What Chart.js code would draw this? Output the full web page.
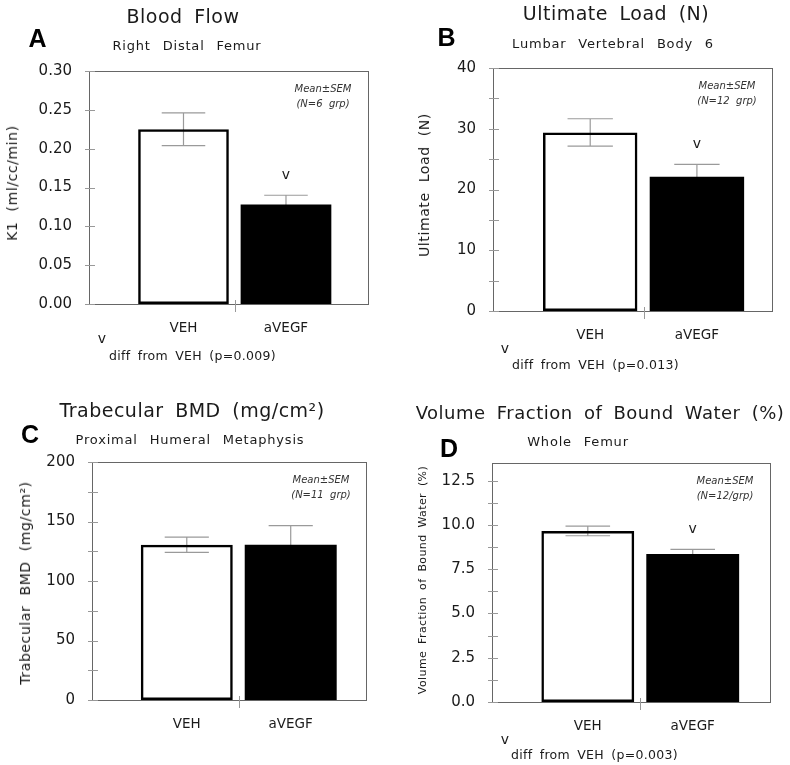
<!DOCTYPE html>
<html lang="en">
<head>
    <meta charset="UTF-8">
    <title>aVEGF vs VEH - bone panels</title>
    <script src="https://cdn.jsdelivr.net/npm/chart.js"></script>
    <style>
        body {
            margin: 0;
            background: #fff;
        }

        .page {
            position: relative;
            width: 790px;
            height: 765px;
            overflow: hidden;
        }

        .panel {
            position: absolute;
        }

        .t {
            position: absolute;
            transform: translate(-50%, -50%);
            white-space: pre;
            font-family: "DejaVu Sans", sans-serif;
            color: #1a1a1a;
            line-height: 1;
        }

        .title { font-size: 19px; letter-spacing: 0.5px; word-spacing: 5px; }
        .sub { font-size: 13px; letter-spacing: 0.8px; word-spacing: 7px; }
        .letter { font-family: "Liberation Sans", Arial, sans-serif; font-weight: bold; font-size: 25px; color: #000; }
        .ytitle { transform: translate(-50%, -50%) rotate(-90deg); letter-spacing: 0.6px; word-spacing: 5px; }
        .mark { font-size: 14px; }
        .note { transform: translate(0, -50%); font-size: 12.5px; letter-spacing: 0.3px; word-spacing: 3px; }
    </style>
</head>
<body>
<div class="page">
    <!-- A -->
    <div class="panel" style="left:0;top:0"><canvas id="chartA" width="395" height="380"></canvas></div>
    <div class="t letter" style="left:37.5px;top:38px">A</div>
    <div class="t title" style="left:183px;top:16px">Blood Flow</div>
    <div class="t sub" style="left:187px;top:45px">Right Distal Femur</div>
    <div class="t ytitle" style="left:12px;top:183px;font-size:14px">K1 (ml/cc/min)</div>
    <div class="t mark" style="left:102px;top:338px">v</div>
    <div class="t note" style="left:109px;top:356px">diff from VEH (p=0.009)</div>

    <!-- B -->
    <div class="panel" style="left:395px;top:0"><canvas id="chartB" width="395" height="380"></canvas></div>
    <div class="t letter" style="left:446.5px;top:36.5px">B</div>
    <div class="t title" style="left:616px;top:13px">Ultimate Load (N)</div>
    <div class="t sub" style="left:613px;top:43px">Lumbar Vertebral Body 6</div>
    <div class="t ytitle" style="left:424px;top:185px;font-size:14px">Ultimate Load (N)</div>
    <div class="t mark" style="left:505px;top:348px">v</div>
    <div class="t note" style="left:512px;top:365px">diff from VEH (p=0.013)</div>

    <!-- C -->
    <div class="panel" style="left:0;top:380px"><canvas id="chartC" width="395" height="385"></canvas></div>
    <div class="t letter" style="left:30px;top:433.5px">C</div>
    <div class="t title" style="left:192px;top:410px">Trabecular BMD (mg/cm²)</div>
    <div class="t sub" style="left:190px;top:439px">Proximal Humeral Metaphysis</div>
    <div class="t ytitle" style="left:25px;top:582.5px;font-size:14px">Trabecular BMD (mg/cm²)</div>

    <!-- D -->
    <div class="panel" style="left:395px;top:380px"><canvas id="chartD" width="395" height="385"></canvas></div>
    <div class="t letter" style="left:449px;top:448px">D</div>
    <div class="t title" style="left:600px;top:413px;font-size:18px">Volume Fraction of Bound Water (%)</div>
    <div class="t sub" style="left:578px;top:441px">Whole Femur</div>
    <div class="t ytitle" style="left:422px;top:580px;font-size:11px;letter-spacing:0.4px;word-spacing:3px">Volume Fraction of Bound Water (%)</div>
    <div class="t mark" style="left:505px;top:739px">v</div>
    <div class="t note" style="left:511px;top:755px">diff from VEH (p=0.003)</div>
</div>

<script>
    // groups
    const groups = ['VEH', 'aVEGF'];

    // A: blood flow, K1 (ml/cc/min)
    const flowMean = [0.225, 0.128];
    const flowSem = [0.021, 0.012];
    const flowMark = ['', 'v'];

    // B: ultimate load (N)
    const loadMean = [29.4, 22.1];
    const loadSem = [2.25, 2.05];
    const loadMark = ['', 'v'];

    // C: trabecular BMD (mg/cm2)
    const bmdMean = [130.4, 130.4];
    const bmdSem = [6.4, 16.2];
    const bmdMark = ['', ''];

    // D: bound water (%)
    const waterMean = [9.66, 8.36];
    const waterSem = [0.27, 0.26];
    const waterMark = ['', 'v'];

    // draws SEM whiskers, frame, tick marks and labels inside the plot
    const panelDecor = {
        id: 'panelDecor',
        beforeDatasetsDraw(chart, args, opts) {
            const ctx = chart.ctx;
            const y = chart.scales.y;
            const bars = chart.getDatasetMeta(0).data;
            ctx.save();
            ctx.strokeStyle = '#9a9a9a';
            ctx.lineWidth = 1.2;
            bars.forEach((bar, i) => {
                const top = y.getPixelForValue(opts.mean[i] + opts.sem[i]);
                const bot = y.getPixelForValue(opts.mean[i] - opts.sem[i]);
                const half = bar.width * 0.24;
                ctx.beginPath();
                ctx.moveTo(bar.x, top); ctx.lineTo(bar.x, bot);
                ctx.moveTo(bar.x - half, top); ctx.lineTo(bar.x + half, top);
                ctx.moveTo(bar.x - half, bot); ctx.lineTo(bar.x + half, bot);
                ctx.stroke();
            });
            ctx.restore();
        },
        afterDatasetsDraw(chart, args, opts) {
            const ctx = chart.ctx;
            const a = chart.chartArea;
            const x = chart.scales.x;
            const y = chart.scales.y;
            const bars = chart.getDatasetMeta(0).data;
            ctx.save();

            // frame
            ctx.strokeStyle = '#666';
            ctx.lineWidth = 1;
            ctx.strokeRect(a.left + 0.5, a.top + 0.5, a.right - a.left - 1, a.bottom - a.top);

            // y tick marks across the left edge
            ctx.strokeStyle = '#999';
            ctx.beginPath();
            y.ticks.forEach(t => {
                const py = Math.round(y.getPixelForValue(t.value)) + 0.5;
                ctx.moveTo(a.left - 4, py); ctx.lineTo(a.left + 6, py);
            });
            // divider tick between the two groups
            const mx = Math.round(x.getPixelForValue(0.5)) + 0.5;
            ctx.moveTo(mx, a.bottom - 4); ctx.lineTo(mx, a.bottom + 8);
            ctx.stroke();

            // significance marks
            ctx.fillStyle = '#1a1a1a';
            ctx.font = '14px "DejaVu Sans"';
            ctx.textAlign = 'center';
            ctx.textBaseline = 'middle';
            bars.forEach((bar, i) => {
                if (!opts.mark[i]) return;
                ctx.fillText(opts.mark[i], bar.x, y.getPixelForValue(opts.mean[i] + opts.sem[i]) - 20);
            });

            // Mean±SEM box text
            ctx.fillStyle = '#333';
            ctx.font = 'italic 10px "DejaVu Sans"';
            ctx.fillText('Mean±SEM', a.right - 46, a.top + 18);
            ctx.fillText(opts.nText, a.right - 46, a.top + 33);
            ctx.restore();
        }
    };

    function makePanel(id, cfg) {
        const panelH = document.getElementById(id).height;
        const panelW = document.getElementById(id).width;
        return new Chart(document.getElementById(id), {
            type: 'bar',
            data: {
                datasets: [{
                    data: cfg.mean.map((v, i) => ({ x: i, y: v })),
                    backgroundColor: ['rgba(255,255,255,0)', '#000'],
                    borderColor: '#000',
                    borderWidth: [2.5, 0],
                    borderSkipped: false,
                    barPercentage: 0.885,
                    categoryPercentage: 1
                }]
            },
            options: {
                responsive: false,
                animation: false,
                layout: {
                    padding: { left: 0, top: cfg.box.top, right: panelW - cfg.box.right, bottom: 0 }
                },
                plugins: {
                    legend: { display: false },
                    tooltip: { enabled: false },
                    panelDecor: { mean: cfg.mean, sem: cfg.sem, mark: cfg.mark, nText: cfg.nText }
                },
                scales: {
                    x: {
                        type: 'linear',
                        offset: false,
                        min: cfg.xMin,
                        max: cfg.xMax,
                        grid: { display: false, drawTicks: false },
                        border: { display: false },
                        afterBuildTicks: s => { s.ticks = groups.map((g, i) => ({ value: i })); },
                        afterFit: s => { s.height = panelH - cfg.box.bottom; },
                        ticks: {
                            autoSkip: false,
                            maxRotation: 0,
                            padding: 16,
                            color: '#1a1a1a',
                            font: { family: 'DejaVu Sans', size: 13.5 },
                            callback: v => groups[v]
                        }
                    },
                    y: {
                        min: 0,
                        max: cfg.yMax,
                        grid: { display: false, drawTicks: false },
                        border: { display: false },
                        afterFit: s => { s.width = cfg.box.left; },
                        ticks: {
                            stepSize: cfg.yStep,
                            includeBounds: false,
                            padding: 17,
                            color: '#1a1a1a',
                            font: { family: 'DejaVu Sans', size: 15 },
                            callback: v => {
                                const r = v / cfg.yMajor;
                                return Math.abs(r - Math.round(r)) < 1e-6 ? v.toFixed(cfg.yDec) : '';
                            }
                        }
                    }
                }
            },
            plugins: [panelDecor]
        });
    }

    makePanel('chartA', {
        mean: flowMean, sem: flowSem, mark: flowMark, nText: '(N=6  grp)',
        yMax: 0.30, yStep: 0.025, yMajor: 0.05, yDec: 2,
        xMin: -0.922, xMax: 1.81,
        box: { left: 89, top: 71, right: 369, bottom: 304 }
    });

    makePanel('chartB', {
        mean: loadMean, sem: loadSem, mark: loadMark, nText: '(N=12  grp)',
        yMax: 40, yStep: 5, yMajor: 10, yDec: 0,
        xMin: -0.911, xMax: 1.713,
        box: { left: 98, top: 68, right: 378, bottom: 311 }
    });

    makePanel('chartC', {
        mean: bmdMean, sem: bmdSem, mark: bmdMark, nText: '(N=11  grp)',
        yMax: 200, yStep: 25, yMajor: 50, yDec: 0,
        xMin: -0.912, xMax: 1.734,
        box: { left: 92, top: 82, right: 367, bottom: 320 }
    });

    makePanel('chartD', {
        mean: waterMean, sem: waterSem, mark: waterMark, nText: '(N=12/grp)',
        yMax: 13.5, yStep: 1.25, yMajor: 2.5, yDec: 1,
        xMin: -0.913, xMax: 1.746,
        box: { left: 97, top: 83, right: 376, bottom: 322 }
    });
</script>
</body>
</html>
